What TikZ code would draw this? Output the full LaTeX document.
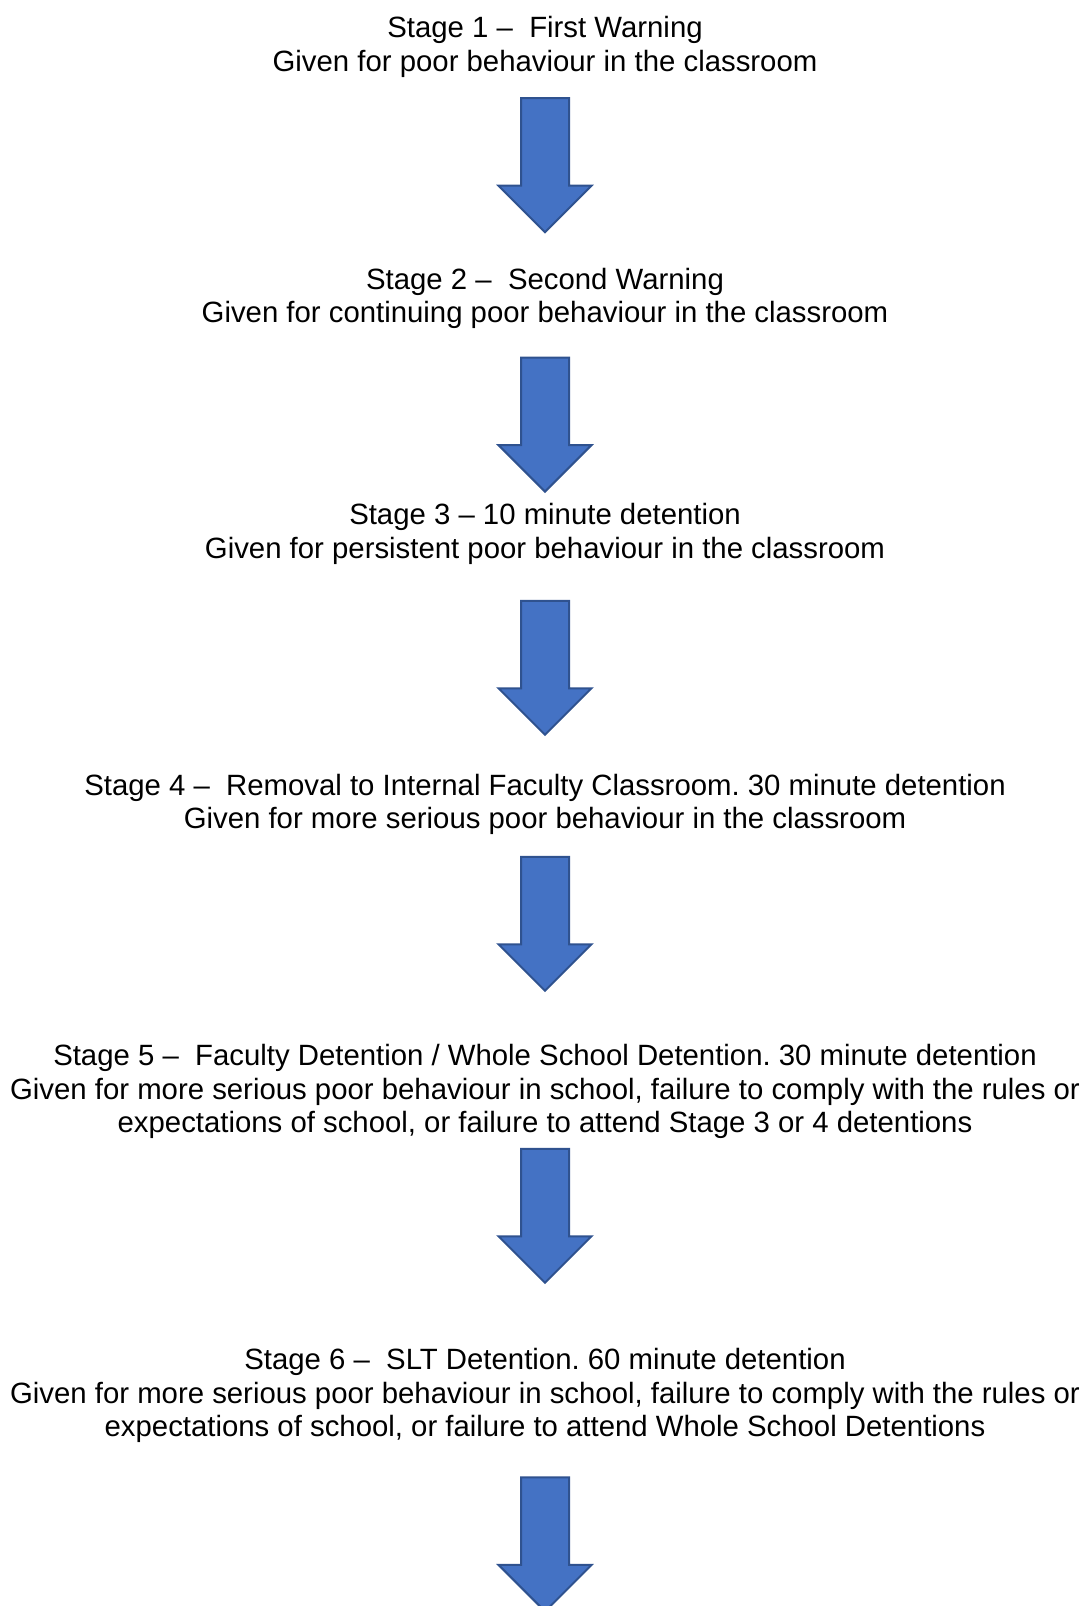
\documentclass[tikz,border=0pt]{standalone}
\usepackage{fontspec}
\setmainfont{Liberation Sans}
\usepackage{xcolor}
\usepackage{tikz}
\usetikzlibrary{shapes.arrows}
\definecolor{arrowblue}{HTML}{4472C4}
\definecolor{arrowedge}{HTML}{2F528F}
\frenchspacing
\newcommand{\stagefont}{\fontsize{14.67pt}{16.75pt}\selectfont}
\tikzstyle{stage} = [align=center, font=\stagefont, inner sep=0pt]
\tikzstyle{downarrow} = [single arrow, shape border rotate=270, draw=arrowedge, fill=arrowblue,
  line width=1pt, minimum height=67pt, minimum width=46.5pt,
  single arrow head extend=11.25pt, inner sep=11.5pt]

\begin{document}
\begin{tikzpicture}[x=0.5pt, y=0.5pt]
\useasboundingbox (0,0) rectangle (1085,-1606);

\node (s1) [stage] at (545,-47) {Stage 1 –~ First Warning\\Given for poor behaviour in the classroom};
\node (a1) [downarrow, node distance=53.1pt, below of=s1] {};
\node (s2) [stage, node distance=72.6pt, below of=a1] {Stage 2 –~ Second Warning\\Given for continuing poor behaviour in the classroom};
\node (a2) [downarrow, node distance=57.1pt, below of=s2] {};
\node (s3) [stage, node distance=60.6pt, below of=a2] {Stage 3 – 10 minute detention\\Given for persistent poor behaviour in the classroom};
\node (a3) [downarrow, node distance=61pt, below of=s3] {};
\node (s4) [stage, node distance=74.3pt, below of=a3] {Stage 4 –~ Removal to Internal Faculty Classroom. 30 minute detention\\Given for more serious poor behaviour in the classroom};
\node (a4) [downarrow, node distance=53.7pt, below of=s4] {};
\node (s5) [stage, node distance=89.9pt, below of=a4] {Stage 5 –~ Faculty Detention / Whole School Detention. 30 minute detention\\Given for more serious poor behaviour in school, failure to comply with the rules or\\expectations of school, or failure to attend Stage 3 or 4 detentions};
\node (a5) [downarrow, node distance=56.1pt, below of=s5] {};
\node (s6) [stage, node distance=95.9pt, below of=a5] {Stage 6 –~ SLT Detention. 60 minute detention\\Given for more serious poor behaviour in school, failure to comply with the rules or\\expectations of school, or failure to attend Whole School Detentions};
\node (a6) [downarrow, node distance=68.4pt, below of=s6] {};
\end{tikzpicture}
\end{document}
